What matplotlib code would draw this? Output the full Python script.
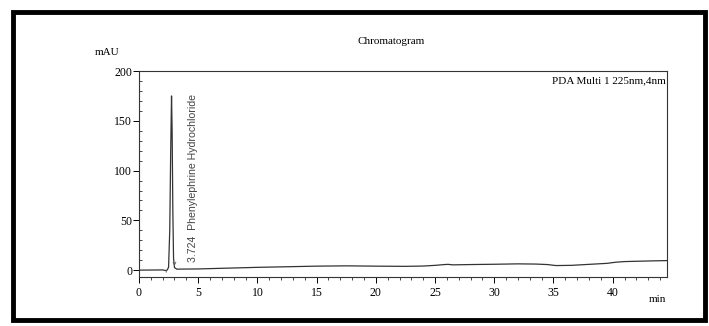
import matplotlib
matplotlib.use("Agg")
import matplotlib.pyplot as plt
from matplotlib.patches import Rectangle
from matplotlib.ticker import MultipleLocator

# chromatogram trace (time in min, signal in mAU)
time_min = [0.0, 1.0, 2.0, 2.3, 2.4, 2.5, 2.6, 2.68, 2.75, 2.8, 2.86, 2.92, 3.0, 3.2,
            5.0, 7.5, 10.0, 12.5, 15.0, 17.5, 20.0, 22.5, 24.0, 25.0, 25.8, 26.1,
            26.5, 28.0, 30.0, 32.0, 33.5, 34.5, 35.2, 36.5, 38.0, 39.5, 40.3, 41.0,
            43.0, 44.6]
signal_mau = [0.0, 0.1, 0.2, -0.5, 0.4, 3.0, 40.0, 120.0, 175.0, 140.0, 60.0, 12.0, 2.5, 1.0,
              1.2, 2.0, 2.8, 3.4, 4.0, 4.3, 4.0, 3.8, 4.1, 4.8, 5.6, 5.8,
              5.3, 5.6, 5.9, 6.3, 6.1, 5.6, 4.6, 4.8, 5.8, 6.8, 8.0, 8.6,
              9.2, 9.6]

peak_rt = 3.724
peak_name = "Phenylephrine Hydrochloride"
channel = "PDA Multi 1 225nm,4nm"

serif = ['Liberation Serif', 'DejaVu Serif']

fig = plt.figure(figsize=(7.09, 3.26), dpi=100)
fig.patch.set_facecolor('white')

# thick black frame of the scanned page
fig.add_artist(Rectangle((0.019, 0.017), 0.975, 0.947, transform=fig.transFigure,
                         fill=False, edgecolor='black', linewidth=3.5))

ax = fig.add_axes([0.196, 0.150, 0.745, 0.632])
ax.plot(time_min, signal_mau, color='#333333', linewidth=0.9)

# integration markers around the peak
ax.annotate('', xy=(2.3, 0), xytext=(2.3, -5),
            arrowprops=dict(arrowstyle='-', color='#555555', lw=0.6))
ax.annotate('', xy=(3.0, 1.5), xytext=(3.0, 8),
            arrowprops=dict(arrowstyle='->', color='#555555', lw=0.6, mutation_scale=5))

ax.text(4.6, 8, "%.3f  %s" % (peak_rt, peak_name), rotation=90,
        ha='center', va='bottom', fontsize=7.6, color='#444444',
        family=['Liberation Sans', 'DejaVu Sans'])

ax.set_xlim(0, 44.6)
ax.set_ylim(-7, 200)
ax.set_xticks([0, 5, 10, 15, 20, 25, 30, 35, 40])
ax.set_yticks([0, 50, 100, 150, 200])
ax.xaxis.set_minor_locator(MultipleLocator(1))
ax.yaxis.set_minor_locator(MultipleLocator(10))
ax.tick_params(axis='y', which='major', direction='out', length=4, width=0.7, pad=1)
ax.tick_params(axis='y', which='minor', direction='in', length=2, width=0.5)
ax.tick_params(axis='x', which='major', direction='out', length=4, width=0.7, pad=3)
ax.tick_params(axis='x', which='minor', direction='out', length=2, width=0.5)
for lbl in ax.get_xticklabels() + ax.get_yticklabels():
    lbl.set_family(serif)
    lbl.set_fontsize(8.5)
for sp in ax.spines.values():
    sp.set_linewidth(0.8)
    sp.set_color('#333333')

ax.text(0.997, 0.975, channel, transform=ax.transAxes, ha='right', va='top',
        fontsize=8, family=serif)

fig.text(0.551, 0.872, "Chromatogram", ha='center', va='center', fontsize=8, family=serif)
fig.text(0.151, 0.840, "mAU", ha='center', va='center', fontsize=8, family=serif)
fig.text(0.928, 0.080, "min", ha='center', va='center', fontsize=8, family=serif)

fig.savefig("out.png", dpi=100)
